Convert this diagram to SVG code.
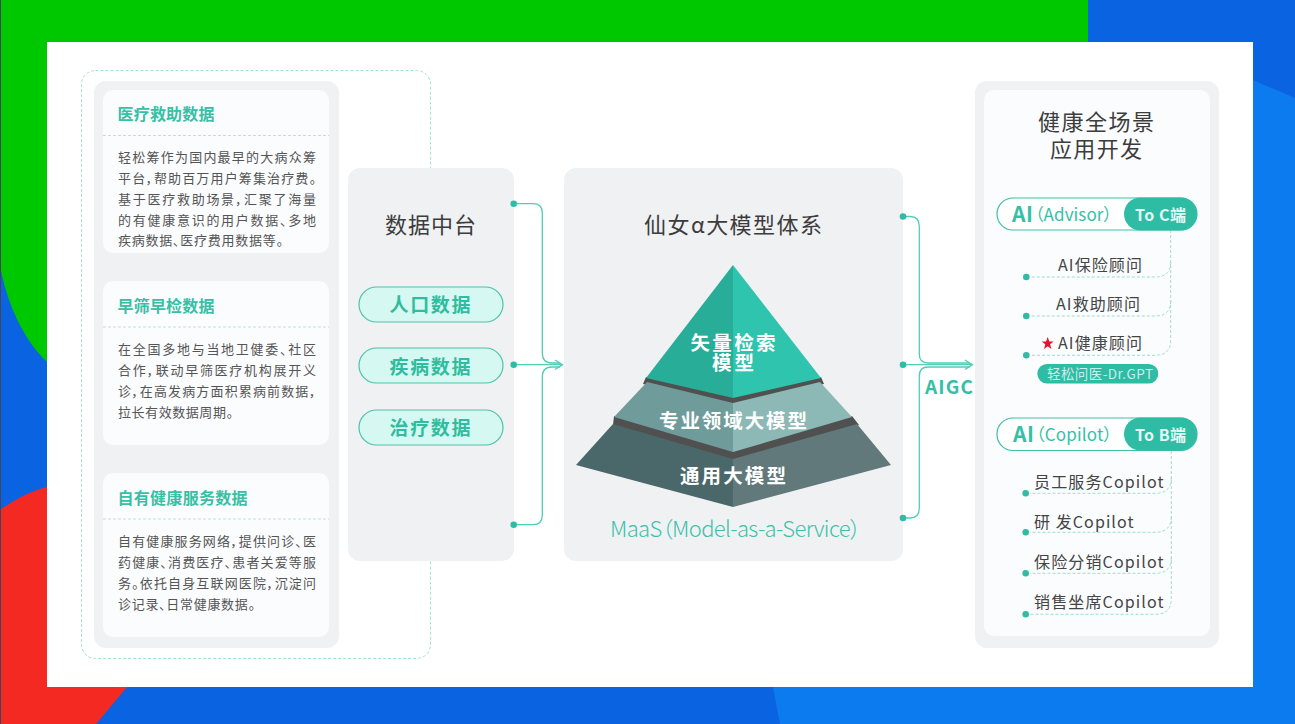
<svg xmlns="http://www.w3.org/2000/svg" width="1295" height="724" viewBox="0 0 1295 724">
<defs>
<style>
text{font-family:"Noto Sans CJK SC","Noto Sans",sans-serif;font-feature-settings:"palt"}
.panel{fill:#f0f1f3}
.card{fill:#fbfcfe}
.div{stroke:#c3ded9;stroke-width:1;stroke-dasharray:3 2;fill:none}
.h{font-size:16px;font-weight:700;fill:#36c0a5}
.b{font-size:13px;fill:#555}
.t{font-size:22px;fill:#3c3c3c;text-anchor:middle}
.pill{fill:#d6f8f2;stroke:#4cc3a9;stroke-width:1.2}
.pt{font-size:19px;font-weight:700;fill:#2fbd9f}
.py{font-size:19.500px;font-weight:700;fill:#fff}
.it{font-size:16px;fill:#444}
.c{fill:none;stroke:#4fcdb6;stroke-width:1.3}
.d{fill:#2fbca5}
.dash{fill:none;stroke:#9fdcd0;stroke-width:1;stroke-dasharray:3 2}
.sel{fill:#fff;stroke:#3cbfa7;stroke-width:1.2}
.ai{font-size:21px;font-weight:700;fill:#35bfa6}
.par{font-size:17px;font-weight:400;fill:#35bfa6}
.to{font-size:16px;font-weight:700;fill:#e4faf5}
</style>
</defs>
<g id="background">
<rect width="1295" height="724" fill="#0a63e0"/>
<path d="M0 0H1088V42H47V362C22 338 6 300 0 265Z" fill="#00c800"/>
<path d="M0 510C14 500 30 491 47 487V687H127L96 724H0Z" fill="#f42a22"/>
<path d="M773 687L780 724H1295V98L1253 80V687Z" fill="#0d7bf0"/>
<rect x="0" y="0" width="1" height="724" fill="#445"/>
<rect x="47" y="42" width="1206" height="645" fill="#fff"/>
</g>
<g id="source-frame"><rect x="81.500" y="70.500" width="349" height="588" rx="14" fill="none" stroke="#a6e0d5" stroke-dasharray="3 2"/></g>
<g id="sources">
<rect class="panel" x="94" y="81" width="245" height="567" rx="12"/>
</g>
<g id="card-rescue">
<rect class="card" x="103" y="90" width="226" height="163" rx="10"/>
<line class="div" x1="103" y1="135.500" x2="329" y2="135.500"/>
<text class="h" x="117.500" y="120" textLength="97">医疗救助数据</text>
<text class="b" x="118" y="162" textLength="198">轻松筹作为国内最早的大病众筹</text>
<text class="b" x="118" y="183" textLength="198">平台，帮助百万用户筹集治疗费。</text>
<text class="b" x="118" y="204" textLength="198">基于医疗救助场景，汇聚了海量</text>
<text class="b" x="118" y="225" textLength="198">的有健康意识的用户数据、多地</text>
<text class="b" x="118" y="245" textLength="165">疾病数据、医疗费用数据等。</text>
</g>
<g id="card-screening">
<rect class="card" x="103" y="281" width="226" height="164" rx="10"/>
<line class="div" x1="103" y1="327" x2="329" y2="327"/>
<text class="h" x="117.500" y="312" textLength="97">早筛早检数据</text>
<text class="b" x="118" y="354" textLength="198">在全国多地与当地卫健委、社区</text>
<text class="b" x="118" y="375" textLength="198">合作，联动早筛医疗机构展开义</text>
<text class="b" x="118" y="396" textLength="198">诊，在高发病方面积累病前数据，</text>
<text class="b" x="118" y="417" textLength="115">拉长有效数据周期。</text>
</g>
<g id="card-service">
<rect class="card" x="103" y="473" width="226" height="164" rx="10"/>
<line class="div" x1="103" y1="519" x2="329" y2="519"/>
<text class="h" x="117.500" y="504" textLength="130">自有健康服务数据</text>
<text class="b" x="118" y="546" textLength="198">自有健康服务网络，提供问诊、医</text>
<text class="b" x="118" y="567" textLength="198">药健康、消费医疗、患者关爱等服</text>
<text class="b" x="118" y="588" textLength="198">务。依托自身互联网医院，沉淀问</text>
<text class="b" x="118" y="609" textLength="137">诊记录、日常健康数据。</text>
</g>
<g id="data-platform">
<rect class="panel" x="348" y="168" width="166" height="393" rx="12"/>
<text class="t" x="430.500" y="233" textLength="91">数据中台</text>
<rect class="pill" x="359" y="287" width="144" height="35" rx="17.500"/>
<text class="pt" x="430" y="312" text-anchor="middle" textLength="81">人口数据</text>
<rect class="pill" x="359" y="348" width="144" height="35" rx="17.500"/>
<text class="pt" x="430" y="374" text-anchor="middle" textLength="81">疾病数据</text>
<rect class="pill" x="359" y="410" width="144" height="35" rx="17.500"/>
<text class="pt" x="430" y="435" text-anchor="middle" textLength="81">治疗数据</text>
</g>
<g id="model-system">
<rect class="panel" x="564" y="168" width="339" height="393" rx="12"/>
<text class="t" x="733" y="233" textLength="178">仙女α大模型体系</text>
<path d="M614 416L733 450L852 416L859 425L733 462L613 425Z" fill="#505050"/>
<path d="M646 377L733 397L821 377L824 384L733 405L643 384Z" fill="#505050"/>
<path d="M733 265L646 378L733 398Z" fill="#27ad98"/>
<path d="M733 265L821 378L733 398Z" fill="#2ec4ad"/>
<path d="M647 382L733 403V452L614 417Z" fill="#6f9c9b"/>
<path d="M820 382L733 403V452L852 417Z" fill="#8cb8b6"/>
<path d="M613 424L733 459V507L576 465Z" fill="#4a6769"/>
<path d="M857 424L733 459V507L891 465Z" fill="#61797a"/>
<text class="py" x="733" y="350" text-anchor="middle" textLength="85">矢量检索</text>
<text class="py" x="733" y="370" text-anchor="middle" textLength="42">模型</text>
<text class="py" x="733" y="428" text-anchor="middle" textLength="148">专业领域大模型</text>
<text class="py" x="733" y="482.500" text-anchor="middle" textLength="106">通用大模型</text>
<text x="610" y="537" font-size="22" font-weight="300" fill="#3cc1ab" textLength="251">MaaS（Model-as-a-Service）</text>
</g>
<g id="connectors">
<path class="c" d="M514 203.700H533Q542.300 203.700 542.300 213V353Q542.300 363 552 363H560"/>
<path class="c" d="M514 524.700H533Q542.300 524.700 542.300 515V377Q542.300 367 552 367H560"/>
<path class="c" d="M514 364.700H561M555 360L562.500 364.700L555 369.500"/>
<circle class="d" cx="513.700" cy="203.700" r="3.300"/><circle class="d" cx="513.700" cy="364.700" r="3.300"/><circle class="d" cx="513.700" cy="524.700" r="3.300"/>
<path class="c" d="M903 216.500H910Q919.300 216.500 919.300 226V354Q919.300 363 928 363H970"/>
<path class="c" d="M903 518H910Q919.300 518 919.300 508V376Q919.300 367 928 367H970"/>
<path class="c" d="M903 364.700H971M965 360L972.500 364.700L965 369.500"/>
<circle class="d" cx="903" cy="216.500" r="3.300"/><circle class="d" cx="903" cy="364.700" r="3.300"/><circle class="d" cx="903" cy="518" r="3.300"/>
<text x="925" y="394" font-size="19" font-weight="700" fill="#35bfa6" textLength="48">AIGC</text>
</g>
<g id="applications">
<rect class="panel" x="975" y="81" width="244" height="567" rx="12"/>
<rect class="card" x="984" y="90" width="226" height="546" rx="10"/>
<text class="t" x="1096" y="130" textLength="116">健康全场景</text>
<text class="t" x="1096" y="157" textLength="92">应用开发</text>
</g>
<g id="advisor-links">
<path class="dash" d="M1170.700 230V340Q1170.700 355.300 1155 355.300H1030M1170.700 262Q1170.700 277 1155 277H1030M1170.700 301Q1170.700 316 1155 316H1030"/>
<circle class="d" cx="1026.300" cy="277" r="3.300"/><circle class="d" cx="1026.300" cy="316" r="3.300"/><circle class="d" cx="1026.300" cy="355.300" r="3.300"/>
</g>
<g id="advisor">
<rect class="sel" x="997" y="198" width="200" height="32" rx="16"/>
<rect class="d" x="1124" y="197.500" width="73" height="33" rx="16.500"/>
<text class="ai" x="1012" y="222" textLength="21">AI</text>
<text class="par" x="1035" y="221" textLength="77">（Advisor）</text>
<text class="to" x="1135" y="221" textLength="51">To C端</text>
<text class="it" x="1058" y="271" textLength="84">AI保险顾问</text>
<text class="it" x="1056" y="310" textLength="84">AI救助顾问</text>
<text class="it" x="1058" y="349" textLength="84">AI健康顾问</text>
<path d="M1047.700 337L1049.300 341.500H1053.700L1050.100 344.300L1051.400 349L1047.700 346.200L1044 349L1045.300 344.300L1041.700 341.500H1046.100Z" fill="#e8112d"/>
<rect class="d" x="1037.300" y="364" width="121" height="19.500" rx="9.750"/>
<text x="1047" y="379" font-size="13.500" fill="#c8f0e8" textLength="106">轻松问医-Dr.GPT</text>
</g>
<g id="copilot-links">
<path class="dash" d="M1171.300 451V599Q1171.300 614.300 1155 614.300H1030M1171.300 478Q1171.300 493.300 1155 493.300H1030M1171.300 517Q1171.300 532.300 1155 532.300H1030M1171.300 558Q1171.300 573.300 1155 573.300H1030"/>
<circle class="d" cx="1025.700" cy="493.300" r="3.300"/><circle class="d" cx="1025.700" cy="532.300" r="3.300"/><circle class="d" cx="1025.700" cy="573.300" r="3.300"/><circle class="d" cx="1025.700" cy="614.300" r="3.300"/>
</g>
<g id="copilot">
<rect class="sel" x="997" y="418" width="200" height="32.500" rx="16"/>
<rect class="d" x="1124" y="417.500" width="73" height="33" rx="16.500"/>
<text class="ai" x="1013" y="442" textLength="21">AI</text>
<text class="par" x="1036" y="441" textLength="76">（Copilot）</text>
<text class="to" x="1135" y="441" textLength="51">To B端</text>
<text class="it" x="1034" y="487.500" textLength="129.500">员工服务Copilot</text>
<text class="it" x="1034" y="527.500" textLength="99.500" xml:space="preserve">研 发Copilot</text>
<text class="it" x="1034" y="568" textLength="129.500">保险分销Copilot</text>
<text class="it" x="1034" y="608" textLength="129.500">销售坐席Copilot</text>
</g>
</svg>
